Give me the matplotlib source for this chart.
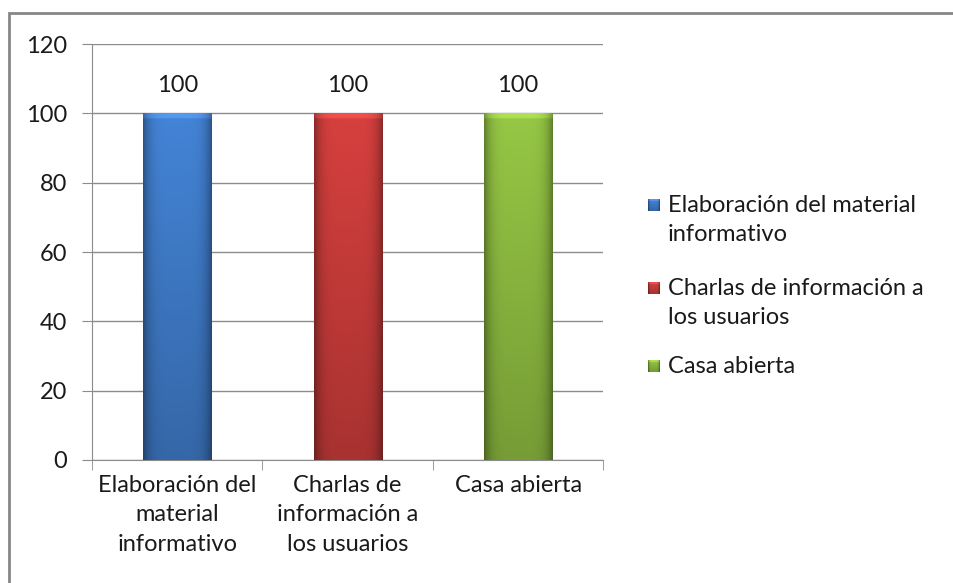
import numpy as np
import matplotlib.pyplot as plt
from matplotlib.patches import Rectangle
from matplotlib.colors import to_rgb

plt.rcParams['font.family'] = ['Lato', 'DejaVu Sans']

# Categories, values and series colours
categories = ["Elaboración del\nmaterial\ninformativo",
              "Charlas de\ninformación a\nlos usuarios",
              "Casa abierta"]
legend_labels = ["Elaboración del material\ninformativo",
                 "Charlas de información a\nlos usuarios",
                 "Casa abierta"]
values = [100, 100, 100]
colors = ["#3f7bc8", "#c83c3a", "#8cba40"]

FS = 17
TXT = "#1a1a1a"
GRID = "#8c8c8c"
LS = 1.48

fig = plt.figure(figsize=(9.54, 5.83), dpi=100)
ax = fig.add_axes([0.0964, 0.211, 0.536, 0.7135])

# outer chart border (runs off the right and bottom edges)
fig.patches.append(Rectangle((9 / 954, -0.1), 1.2, 1.1 - 13 / 583,
                             transform=fig.transFigure, fill=False,
                             edgecolor="#878787", linewidth=2))


def shaded(c, nx=60, ny=200, bevel=3):
    """Bar fill: darker towards the sides and the bottom, light top bevel."""
    rgb = np.array(to_rgb(c))
    u = np.linspace(-1, 1, nx)
    side = 1 - 0.35 * np.abs(u) ** 5
    v = np.linspace(0, 1, ny)[:, None]
    vert = 0.80 + 0.22 * v
    img = np.clip(rgb[None, None, :] * (side[None, :] * vert)[..., None] * 1.05, 0, 1)
    img[-bevel:, :, :] = np.clip(img[-bevel:, :, :] * 1.08 + 0.04, 0, 1)
    return img


x = np.arange(len(values))
width = 0.4
bars = ax.bar(x, values, width=width, color=colors, edgecolor="none", zorder=2)

for b, c in zip(bars, colors):
    x0, y0 = b.get_x(), b.get_y()
    im = ax.imshow(shaded(c), extent=(x0, x0 + b.get_width(), y0, y0 + b.get_height()),
                   origin="lower", aspect="auto", zorder=3, interpolation="bilinear")
    im.set_clip_path(b)
    ax.text(b.get_x() + b.get_width() / 2, b.get_height() + 5, f"{b.get_height():g}",
            ha="center", va="bottom", fontsize=FS, color=TXT, zorder=4)

ax.set_xlim(-0.5, len(values) - 0.5)
ax.set_ylim(0, 120)
ax.set_yticks(range(0, 121, 20))
ax.yaxis.grid(True, color=GRID, linewidth=1)
ax.set_axisbelow(True)

ax.set_xticks(x)
ax.set_xticklabels(categories, fontsize=FS, color=TXT, linespacing=LS)
ax.set_xticks(np.arange(len(values) + 1) - 0.5, minor=True)
ax.tick_params(axis="x", which="major", length=0, pad=11)
ax.tick_params(axis="x", which="minor", length=7, color=GRID)
ax.tick_params(axis="y", length=7, color=GRID, labelsize=FS,
               labelcolor=TXT, pad=11)

for s in ["top", "right"]:
    ax.spines[s].set_visible(False)
for s in ["left", "bottom"]:
    ax.spines[s].set_color(GRID)

# legend: square key aligned with the first line of each label
W, H = 954, 583
legend_rows = [205, 288, 366]
for lab, c, yc in zip(legend_labels, colors, legend_rows):
    key = fig.add_axes([648 / W, 1 - (yc + 6) / H, 12 / W, 12 / H])
    key.imshow(shaded(c, nx=12, ny=12, bevel=2), origin="lower", aspect="auto",
               interpolation="bilinear")
    key.axis("off")
    fig.text(668 / W, 1 - (yc - 10) / H, lab, ha="left", va="top",
             fontsize=FS, color=TXT, linespacing=LS)

fig.savefig("out.png", dpi=100)
